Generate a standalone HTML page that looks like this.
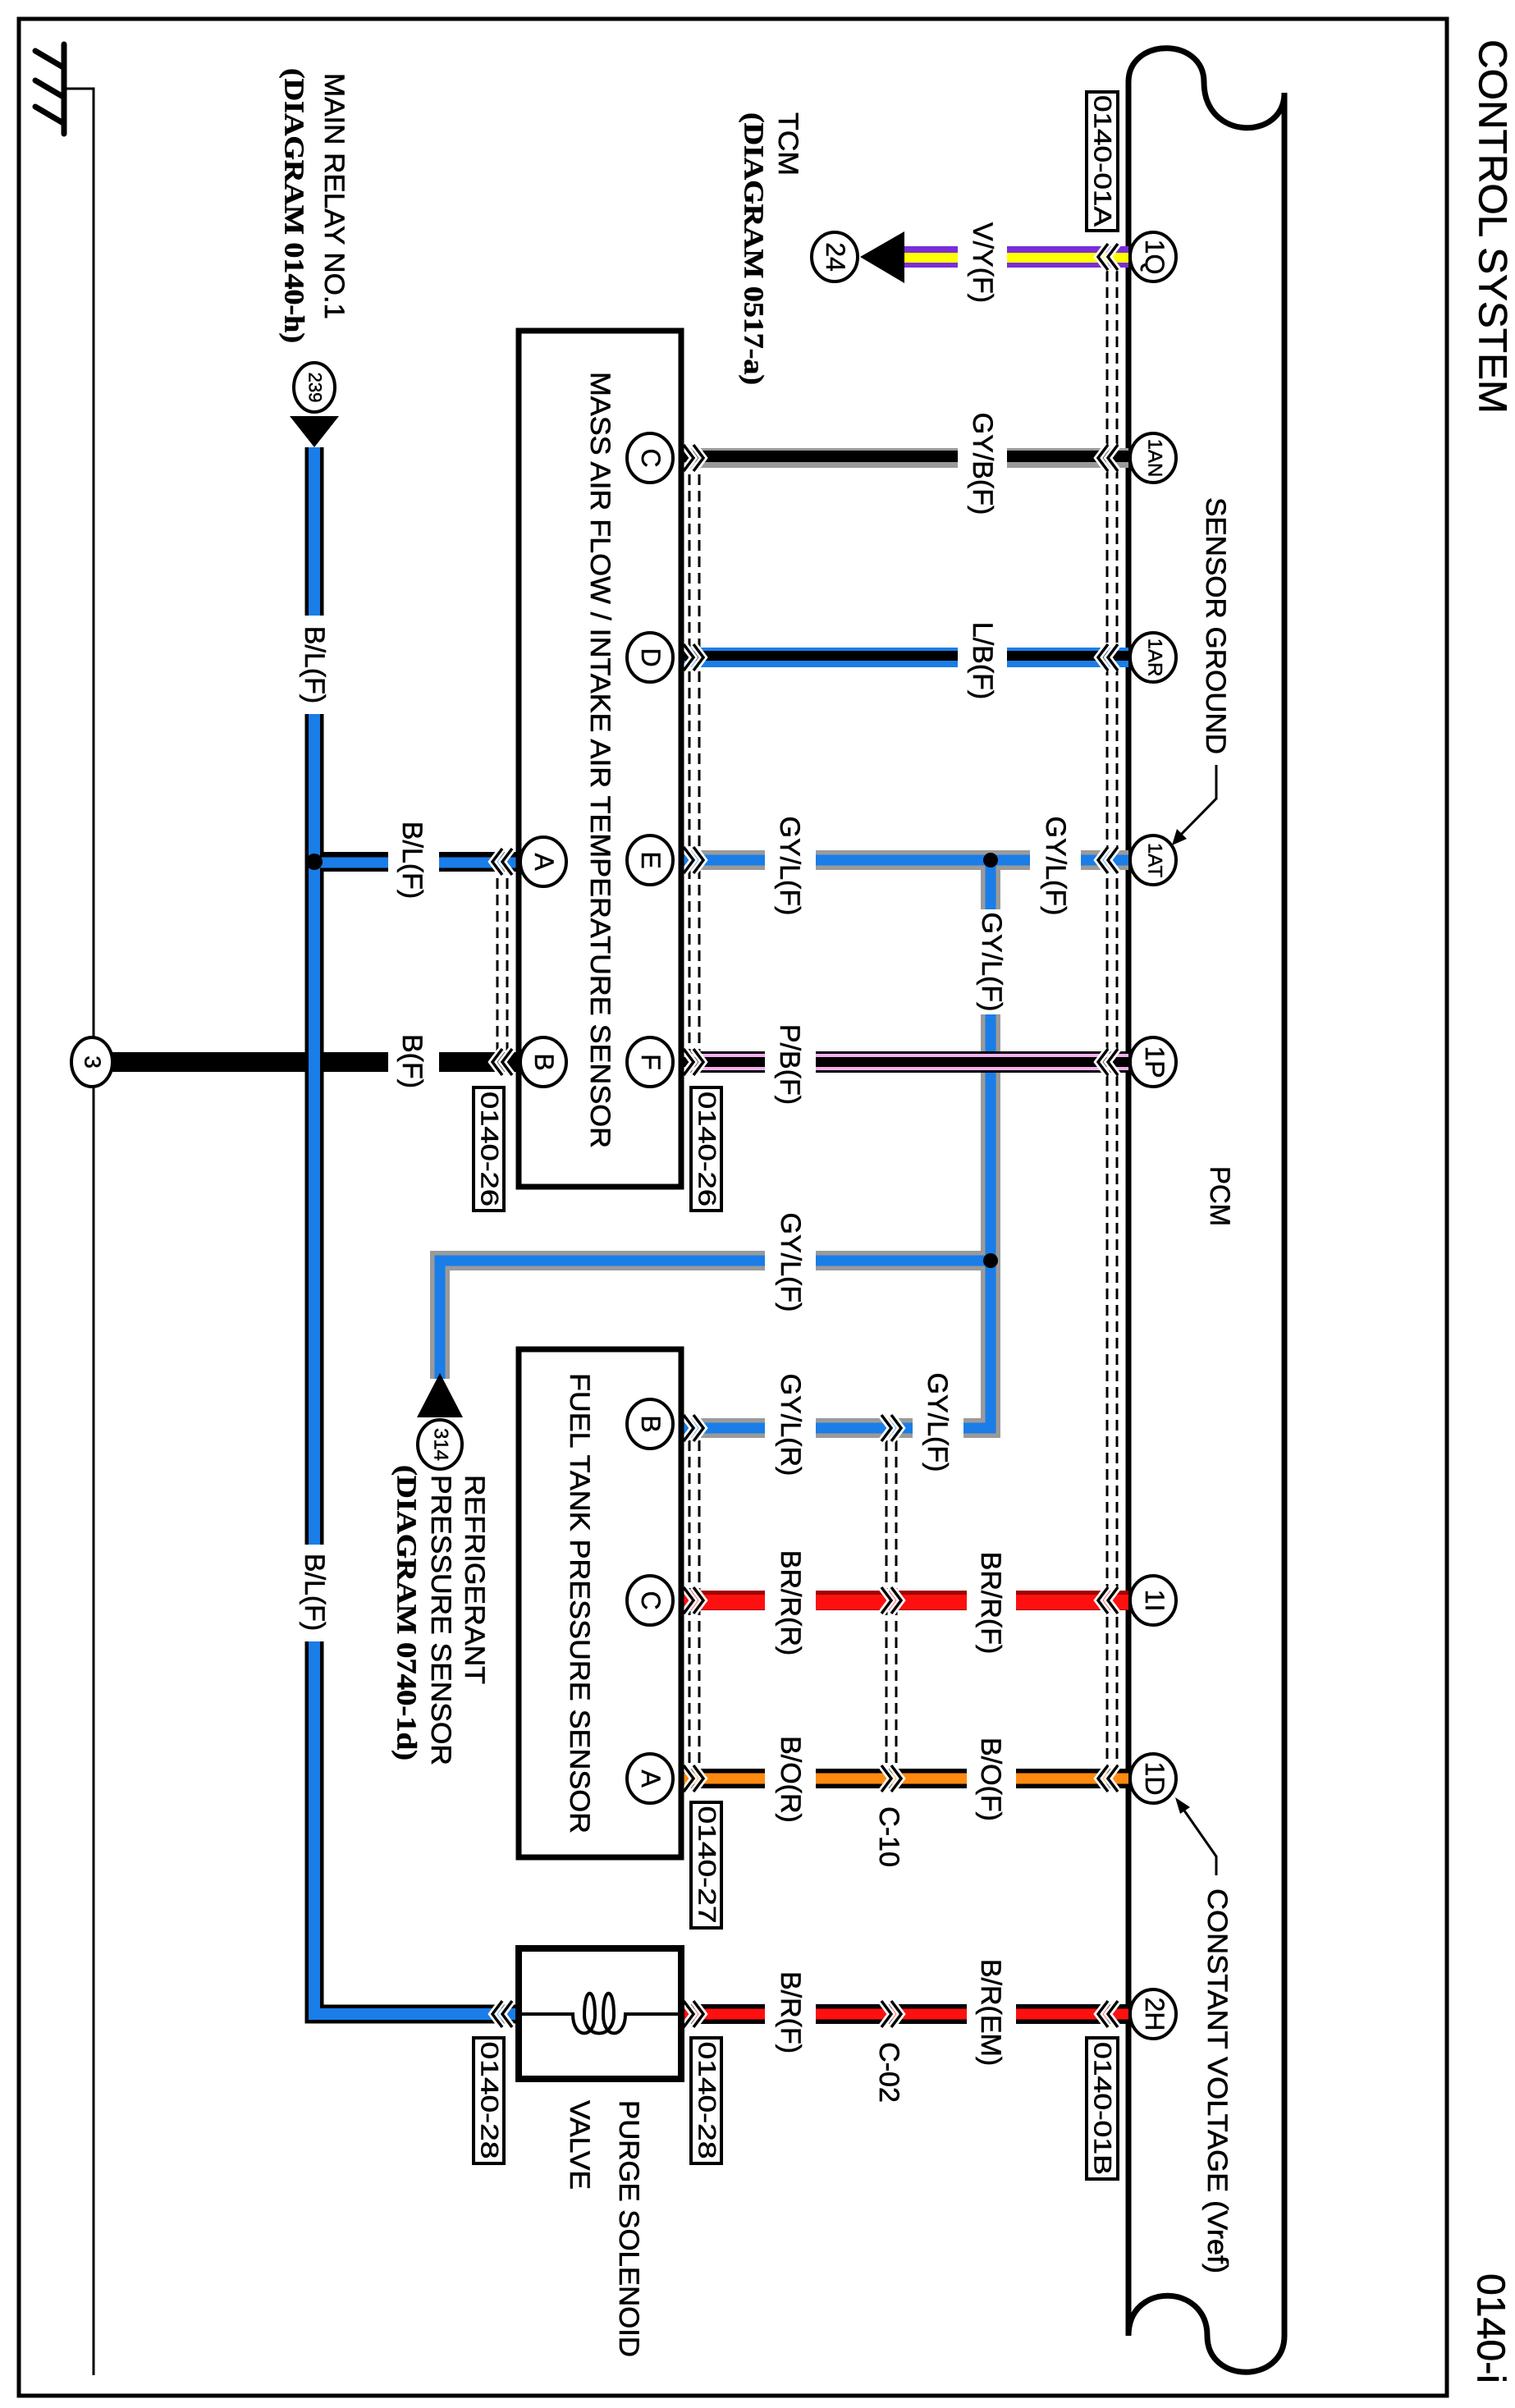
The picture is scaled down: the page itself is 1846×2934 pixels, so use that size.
<!DOCTYPE html>
<html><head><meta charset="utf-8"><style>
html,body{margin:0;padding:0;background:#fff;}
svg{display:block;}
text{font-family:"Liberation Sans",Arial,sans-serif;fill:#000;}
.r{font-family:"Liberation Serif",serif;font-weight:bold;}
</style></head><body>
<svg width="1846" height="2934" viewBox="0 0 1846 2934" xmlns="http://www.w3.org/2000/svg">
<defs>
<g id="chL"><polyline points="-2,-16 -14,0 -2,16" fill="none" stroke="#fff" stroke-width="9"/><polyline points="10,-16 -2,0 10,16" fill="none" stroke="#fff" stroke-width="9"/><polyline points="-2,-16 -14,0 -2,16" fill="none" stroke="#000" stroke-width="3.5"/><polyline points="10,-16 -2,0 10,16" fill="none" stroke="#000" stroke-width="3.5"/></g>
<g id="chR"><polyline points="2,-16 14,0 2,16" fill="none" stroke="#fff" stroke-width="9"/><polyline points="-10,-16 2,0 -10,16" fill="none" stroke="#fff" stroke-width="9"/><polyline points="2,-16 14,0 2,16" fill="none" stroke="#000" stroke-width="3.5"/><polyline points="-10,-16 2,0 -10,16" fill="none" stroke="#000" stroke-width="3.5"/></g>
</defs>
<rect x="0" y="0" width="1846" height="2934" fill="#fff"/>
<rect x="23" y="23" width="1740" height="2896" fill="none" stroke="#000" stroke-width="5"/>
<line x1="78" y1="54" x2="78" y2="163" stroke="#000" stroke-width="7" stroke-linecap="round"/>
<line x1="43" y1="62" x2="77" y2="82" stroke="#000" stroke-width="7" stroke-linecap="round"/>
<line x1="43" y1="98" x2="77" y2="118" stroke="#000" stroke-width="7" stroke-linecap="round"/>
<line x1="43" y1="130" x2="77" y2="150" stroke="#000" stroke-width="7" stroke-linecap="round"/>
<polyline points="78,108 114,108 114,2894" fill="none" stroke="#000" stroke-width="3"/>
<path d="M1375,2846 L1375,100 C1375,45 1467,45 1467,100 C1467,172 1565,172 1565,113 L1565,2846 C1565,2905 1471,2905 1471,2846 C1471,2782 1375,2780 1375,2846" fill="none" stroke="#000" stroke-width="7"/>
<g fill="none" stroke="#000" stroke-width="3" stroke-dasharray="13,7">
<line x1="1349" y1="330" x2="1349" y2="2170"/><line x1="1361" y1="330" x2="1361" y2="2170"/>
<line x1="840" y1="558" x2="840" y2="1293"/><line x1="852" y1="558" x2="852" y2="1293"/>
<line x1="606" y1="1050" x2="606" y2="1294"/><line x1="618" y1="1050" x2="618" y2="1294"/>
<line x1="840" y1="1735" x2="840" y2="2167"/><line x1="852" y1="1735" x2="852" y2="2167"/>
<line x1="1080" y1="1735" x2="1080" y2="2167"/><line x1="1092" y1="1735" x2="1092" y2="2167"/>
</g>
<line x1="1100" y1="313" x2="1375" y2="313" stroke="#7a2ed6" stroke-width="26"/>
<line x1="1100" y1="314" x2="1375" y2="314" stroke="#ffff00" stroke-width="12"/>
<polygon points="1048,313 1102,282 1102,345" fill="#000"/>
<line x1="830" y1="558" x2="1375" y2="558" stroke="#9a9a9a" stroke-width="24"/>
<line x1="830" y1="556" x2="1375" y2="556" stroke="#000" stroke-width="14"/>
<line x1="830" y1="801" x2="1375" y2="801" stroke="#1a7de8" stroke-width="24"/>
<line x1="830" y1="799" x2="1375" y2="799" stroke="#000" stroke-width="12"/>
<g fill="none" stroke-linejoin="miter">
<polyline points="830,1048 1375,1048" stroke="#9a9a9a" stroke-width="24"/>
<polyline points="1207,1048 1207,1740 830,1740" stroke="#9a9a9a" stroke-width="24"/>
<polyline points="1207,1536 536,1536 536,1680" stroke="#9a9a9a" stroke-width="24"/>
<polyline points="830,1048 1375,1048" stroke="#1a7de8" stroke-width="13"/>
<polyline points="1207,1048 1207,1740 830,1740" stroke="#1a7de8" stroke-width="13"/>
<polyline points="1207,1536 536,1536 536,1680" stroke="#1a7de8" stroke-width="13"/>
</g>
<circle cx="1207" cy="1048" r="9" fill="#000"/>
<circle cx="1207" cy="1536" r="9" fill="#000"/>
<polygon points="536,1673 508,1727 564,1727" fill="#000"/>
<line x1="830" y1="1294" x2="1375" y2="1294" stroke="#000" stroke-width="26"/>
<line x1="830" y1="1294" x2="1375" y2="1294" stroke="#f2b0f0" stroke-width="20"/>
<line x1="830" y1="1294" x2="1375" y2="1294" stroke="#000" stroke-width="12"/>
<line x1="830" y1="1950" x2="1375" y2="1950" stroke="#a00000" stroke-width="24"/>
<line x1="830" y1="1952" x2="1375" y2="1952" stroke="#ff1010" stroke-width="18"/>
<line x1="830" y1="2167" x2="1375" y2="2167" stroke="#000" stroke-width="24"/>
<line x1="830" y1="2167" x2="1375" y2="2167" stroke="#ff8a10" stroke-width="13"/>
<line x1="830" y1="2454" x2="1375" y2="2454" stroke="#000" stroke-width="24"/>
<line x1="830" y1="2454" x2="1375" y2="2454" stroke="#ff1010" stroke-width="13"/>
<polyline points="383,545 383,2454 632,2454" fill="none" stroke="#000" stroke-width="23"/>
<polyline points="383,1050 632,1050" fill="none" stroke="#000" stroke-width="24"/>
<polyline points="383,545 383,2454 632,2454" fill="none" stroke="#1a7de8" stroke-width="14"/>
<polyline points="383,1051 632,1051" fill="none" stroke="#1a7de8" stroke-width="13"/>
<circle cx="383" cy="1050" r="10" fill="#000"/>
<polygon points="383,545 353,507 413,507" fill="#000"/>
<line x1="112" y1="1294" x2="632" y2="1294" stroke="#000" stroke-width="24"/>
<line x1="383" y1="1282" x2="383" y2="1306" stroke="#1a7de8" stroke-width="14"/>
<use href="#chL" x="1352" y="313"/><use href="#chL" x="1352" y="558"/><use href="#chL" x="1352" y="801"/>
<use href="#chL" x="1352" y="1048"/><use href="#chL" x="1352" y="1294"/><use href="#chL" x="1352" y="1950"/>
<use href="#chL" x="1352" y="2167"/><use href="#chL" x="1352" y="2454"/>
<use href="#chR" x="843" y="558"/><use href="#chR" x="843" y="801"/><use href="#chR" x="843" y="1048"/>
<use href="#chR" x="843" y="1294"/><use href="#chR" x="843" y="1740"/><use href="#chR" x="843" y="1950"/>
<use href="#chR" x="843" y="2167"/><use href="#chR" x="843" y="2454"/>
<use href="#chL" x="614" y="1050"/><use href="#chL" x="614" y="1294"/><use href="#chL" x="614" y="2454"/>
<use href="#chR" x="1084" y="1740"/><use href="#chR" x="1084" y="1950"/><use href="#chR" x="1084" y="2167"/><use href="#chR" x="1084" y="2454"/>
<rect x="632" y="403" width="198" height="1043" fill="none" stroke="#000" stroke-width="7"/>
<rect x="632" y="1644" width="198" height="619" fill="none" stroke="#000" stroke-width="7"/>
<rect x="632" y="2374" width="198" height="159" fill="none" stroke="#000" stroke-width="8"/>
<path d="M632,2454 L698,2454 C698,2485 725,2485 725,2455 C725,2420 712,2420 712,2455 C712,2485 748,2485 748,2455 C748,2420 735,2420 735,2455 C735,2485 762,2485 762,2454 L830,2454" fill="none" stroke="#000" stroke-width="4"/>
<g fill="#fff">
<rect x="1167" y="262" width="60" height="115"/>
<rect x="1167" y="515" width="60" height="115"/>
<rect x="1167" y="755" width="60" height="100"/>
<rect x="1255" y="990" width="62" height="125"/>
<rect x="932" y="990" width="62" height="125"/>
<rect x="1178" y="1108" width="60" height="128"/>
<rect x="932" y="1245" width="62" height="105"/>
<rect x="932" y="1473" width="62" height="128"/>
<rect x="932" y="1672" width="62" height="128"/>
<rect x="1112" y="1672" width="62" height="125"/>
<rect x="1178" y="1888" width="60" height="130"/>
<rect x="932" y="1888" width="62" height="130"/>
<rect x="1178" y="2110" width="60" height="115"/>
<rect x="932" y="2110" width="62" height="115"/>
<rect x="1178" y="2385" width="60" height="135"/>
<rect x="932" y="2400" width="62" height="105"/>
<rect x="473" y="995" width="62" height="120"/>
<rect x="473" y="1245" width="62" height="95"/>
<rect x="355" y="750" width="56" height="120"/>
<rect x="355" y="1882" width="56" height="118"/>
</g>
<g fill="#fff" stroke="#000" stroke-width="4">
<ellipse cx="1405" cy="313" rx="28" ry="30"/><ellipse cx="1405" cy="558" rx="28" ry="30"/>
<ellipse cx="1405" cy="801" rx="28" ry="30"/><ellipse cx="1405" cy="1048" rx="28" ry="30"/>
<ellipse cx="1405" cy="1294" rx="28" ry="30"/><ellipse cx="1405" cy="1950" rx="28" ry="30"/>
<ellipse cx="1405" cy="2167" rx="28" ry="30"/><ellipse cx="1405" cy="2454" rx="28" ry="30"/>
<ellipse cx="792" cy="558" rx="28" ry="30"/><ellipse cx="792" cy="801" rx="28" ry="30"/>
<ellipse cx="792" cy="1048" rx="28" ry="30"/><ellipse cx="792" cy="1294" rx="28" ry="30"/>
<ellipse cx="662" cy="1050" rx="28" ry="30"/><ellipse cx="662" cy="1294" rx="28" ry="30"/>
<ellipse cx="792" cy="1735" rx="28" ry="30"/><ellipse cx="792" cy="1950" rx="28" ry="30"/>
<ellipse cx="792" cy="2167" rx="28" ry="30"/>
<ellipse cx="1017" cy="313" rx="28" ry="30"/><ellipse cx="383" cy="472" rx="25" ry="30"/>
<ellipse cx="536" cy="1760" rx="27" ry="30"/><ellipse cx="112" cy="1294" rx="25" ry="30"/>
</g>
<g fill="#fff" stroke="#000" stroke-width="4">
<rect x="1324" y="112" width="38" height="169"/>
<rect x="1324" y="2483" width="38" height="172"/>
<rect x="577" y="1325" width="37" height="150"/>
<rect x="842" y="1325" width="37" height="150"/>
<rect x="842" y="2196" width="37" height="153"/>
<rect x="577" y="2483" width="37" height="153"/>
<rect x="842" y="2483" width="37" height="153"/>
</g>
<polyline points="1482,932 1482,973 1432,1024" fill="none" stroke="#000" stroke-width="3"/>
<polygon points="1428,1030 1434,1010 1446,1022" fill="#000"/>
<polyline points="1482,2285 1482,2262 1436,2196" fill="none" stroke="#000" stroke-width="3"/>
<polygon points="1432,2190 1450,2202 1438,2210" fill="#000"/>
<g font-size="34" text-anchor="middle" dominant-baseline="central" stroke="#000" stroke-width="0.6">
<text transform="translate(1197,320) rotate(90)">V/Y(F)</text>
<text transform="translate(1197,565) rotate(90)">GY/B(F)</text>
<text transform="translate(1197,805) rotate(90)">L/B(F)</text>
<text transform="translate(1286,1055) rotate(90)">GY/L(F)</text>
<text transform="translate(962,1055) rotate(90)">GY/L(F)</text>
<text transform="translate(1208,1172) rotate(90)">GY/L(F)</text>
<text transform="translate(962,1297) rotate(90)">P/B(F)</text>
<text transform="translate(963,1538) rotate(90)">GY/L(F)</text>
<text transform="translate(963,1736) rotate(90)">GY/L(R)</text>
<text transform="translate(1142,1733) rotate(90)">GY/L(F)</text>
<text transform="translate(1207,1953) rotate(90)">BR/R(F)</text>
<text transform="translate(963,1953) rotate(90)">BR/R(R)</text>
<text transform="translate(1207,2168) rotate(90)">B/O(F)</text>
<text transform="translate(963,2168) rotate(90)">B/O(R)</text>
<text transform="translate(1207,2452) rotate(90)">B/R(EM)</text>
<text transform="translate(963,2452) rotate(90)">B/R(F)</text>
<text transform="translate(502,1048) rotate(90)">B/L(F)</text>
<text transform="translate(502,1293) rotate(90)">B(F)</text>
<text transform="translate(383,810) rotate(90)">B/L(F)</text>
<text transform="translate(383,1940) rotate(90)">B/L(F)</text>
<text transform="translate(1083,2238) rotate(90)">C-10</text>
<text transform="translate(1083,2525) rotate(90)">C-02</text>
</g>
<g font-size="32" text-anchor="middle" dominant-baseline="central" stroke="#000" stroke-width="0.5">
<text transform="translate(1407,313) rotate(90)">1Q</text>
<text transform="translate(1407,558) rotate(90)" font-size="24">1AN</text>
<text transform="translate(1407,801) rotate(90)" font-size="24">1AR</text>
<text transform="translate(1407,1048) rotate(90)" font-size="24">1AT</text>
<text transform="translate(1407,1294) rotate(90)">1P</text>
<text transform="translate(1407,1950) rotate(90)">1I</text>
<text transform="translate(1407,2167) rotate(90)">1D</text>
<text transform="translate(1407,2454) rotate(90)">2H</text>
<text transform="translate(793,558) rotate(90)">C</text>
<text transform="translate(793,801) rotate(90)">D</text>
<text transform="translate(793,1048) rotate(90)">E</text>
<text transform="translate(793,1294) rotate(90)">F</text>
<text transform="translate(663,1050) rotate(90)">A</text>
<text transform="translate(663,1294) rotate(90)">B</text>
<text transform="translate(793,1735) rotate(90)">B</text>
<text transform="translate(793,1950) rotate(90)">C</text>
<text transform="translate(793,2167) rotate(90)">A</text>
<text transform="translate(1018,313) rotate(90)">24</text>
<text transform="translate(384,472) rotate(90)" font-size="22">239</text>
<text transform="translate(537,1760) rotate(90)" font-size="24">314</text>
<text transform="translate(113,1294) rotate(90)" font-size="28">3</text>
<text transform="translate(1343,196) rotate(90)" font-size="30" textLength="160" lengthAdjust="spacingAndGlyphs">0140-01A</text>
<text transform="translate(1343,2569) rotate(90)" font-size="30" textLength="162" lengthAdjust="spacingAndGlyphs">0140-01B</text>
<text transform="translate(596,1400) rotate(90)" font-size="30" textLength="140" lengthAdjust="spacingAndGlyphs">0140-26</text>
<text transform="translate(861,1400) rotate(90)" font-size="30" textLength="140" lengthAdjust="spacingAndGlyphs">0140-26</text>
<text transform="translate(861,2272) rotate(90)" font-size="30" textLength="143" lengthAdjust="spacingAndGlyphs">0140-27</text>
<text transform="translate(596,2559) rotate(90)" font-size="30" textLength="143" lengthAdjust="spacingAndGlyphs">0140-28</text>
<text transform="translate(861,2559) rotate(90)" font-size="30" textLength="143" lengthAdjust="spacingAndGlyphs">0140-28</text>
</g>
<g font-size="34" dominant-baseline="central" text-anchor="start" stroke="#000" stroke-width="0.6">
<text transform="translate(1818,48) rotate(90)" font-size="48" textLength="456" lengthAdjust="spacingAndGlyphs">CONTROL SYSTEM</text>
<text transform="translate(1816,2770) rotate(90)" font-size="48" textLength="134" lengthAdjust="spacingAndGlyphs">0140-i</text>
<text transform="translate(960,137) rotate(90)" textLength="77" lengthAdjust="spacingAndGlyphs">TCM</text>
<text class="r" transform="translate(918,137) rotate(90)" textLength="332" lengthAdjust="spacingAndGlyphs">(DIAGRAM 0517-a)</text>
<text transform="translate(407,89) rotate(90)" textLength="300" lengthAdjust="spacingAndGlyphs">MAIN RELAY NO.1</text>
<text class="r" transform="translate(358,83) rotate(90)" textLength="335" lengthAdjust="spacingAndGlyphs">(DIAGRAM 0140-h)</text>
<text transform="translate(731,453) rotate(90)" textLength="946" lengthAdjust="spacingAndGlyphs">MASS AIR FLOW / INTAKE AIR TEMPERATURE SENSOR</text>
<text transform="translate(706,1673) rotate(90)" textLength="561" lengthAdjust="spacingAndGlyphs">FUEL TANK PRESSURE SENSOR</text>
<text transform="translate(578,1797) rotate(90)" textLength="255" lengthAdjust="spacingAndGlyphs">REFRIGERANT</text>
<text transform="translate(537,1797) rotate(90)" textLength="354" lengthAdjust="spacingAndGlyphs">PRESSURE SENSOR</text>
<text class="r" transform="translate(495,1785) rotate(90)" textLength="360" lengthAdjust="spacingAndGlyphs">(DIAGRAM 0740-1d)</text>
<text transform="translate(766,2559) rotate(90)" textLength="313" lengthAdjust="spacingAndGlyphs">PURGE SOLENOID</text>
<text transform="translate(706,2559) rotate(90)" textLength="109" lengthAdjust="spacingAndGlyphs">VALVE</text>
<text transform="translate(1481,606) rotate(90)" textLength="313" lengthAdjust="spacingAndGlyphs">SENSOR GROUND</text>
<text transform="translate(1483,2301) rotate(90)" textLength="469" lengthAdjust="spacingAndGlyphs">CONSTANT VOLTAGE (Vref)</text>
<text transform="translate(1486,1421) rotate(90)" textLength="73" lengthAdjust="spacingAndGlyphs">PCM</text>
</g>
</svg>
</body></html>
